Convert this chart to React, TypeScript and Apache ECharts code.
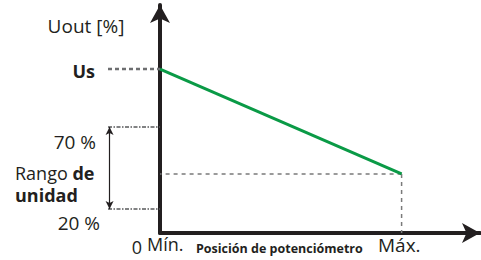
import React, { useEffect, useRef } from "react";
import * as echarts from "echarts";

// Schematic value levels (arbitrary 0-100 units on both axes)
const potPositions = [0, 75.5]; // Mín. -> Máx.
const outputLevels = [71.9, 25.9]; // Us at Mín., value at Máx.
const rangeLevels = [46.5, 10.5]; // 70 % and 20 % marks
const usLevel = 71.9;

const axisLabels = { y: "Uout [%]", us: "Us", top: "70 %", bottom: "20 %", zero: "0", min: "Mín.", max: "Máx.", x: "Posición de potenciómetro" };

const FONT = "'Open Sans', 'DejaVu Sans', sans-serif";
const TEXT = "#231f20";

export default function App() {
  const ref = useRef<HTMLDivElement>(null);
  useEffect(() => {
    if (!ref.current) return;
    const chart = echarts.init(ref.current, null, { renderer: "svg" });
    const axisLine = {
      show: true,
      symbol: ["none", "arrow"],
      symbolSize: [15, 18],
      lineStyle: { color: TEXT, width: 4 },
    };
    const hidden = { show: false };
    chart.setOption({
      animation: false,
      grid: [
        { left: 160, right: 1, top: 5, bottom: 27 },
        { left: 108, width: 52, top: 5, bottom: 27 },
      ],
      xAxis: [
        { type: "value", gridIndex: 0, min: 0, max: 100, axisLine, axisTick: hidden, axisLabel: hidden, splitLine: hidden },
        { type: "value", gridIndex: 1, min: 0, max: 1, show: false },
      ],
      yAxis: [
        { type: "value", gridIndex: 0, min: 0, max: 100, axisLine, axisTick: hidden, axisLabel: hidden, splitLine: hidden },
        { type: "value", gridIndex: 1, min: 0, max: 100, show: false },
      ],
      series: [
        {
          type: "line",
          xAxisIndex: 0,
          yAxisIndex: 0,
          data: [[potPositions[1], outputLevels[1]], [potPositions[0], outputLevels[1]]],
          symbol: "none",
          lineStyle: { color: "#7a7a7a", width: 1.5, type: [4, 4] },
          z: 1,
        },
        {
          type: "line",
          xAxisIndex: 0,
          yAxisIndex: 0,
          data: [[potPositions[1], outputLevels[1]], [potPositions[1], 0]],
          symbol: "none",
          lineStyle: { color: "#7a7a7a", width: 1.5, type: [4, 4] },
          z: 1,
        },
        {
          type: "line",
          xAxisIndex: 0,
          yAxisIndex: 0,
          data: potPositions.map((x, i) => [x, outputLevels[i]]),
          symbol: "none",
          lineStyle: { color: "#0a9a46", width: 3 },
          z: 2,
        },
        {
          type: "line",
          xAxisIndex: 1,
          yAxisIndex: 1,
          data: [[0, usLevel], [1, usLevel]],
          symbol: "none",
          lineStyle: { color: "#6d6e70", width: 2.5, type: [4, 3] },
        },
        {
          type: "line",
          xAxisIndex: 1,
          yAxisIndex: 1,
          data: [[0, rangeLevels[0]], [1, rangeLevels[0]]],
          symbol: "none",
          lineStyle: { color: "#58595b", width: 1.5, type: [4, 1.5, 1.5, 1.5] },
        },
        {
          type: "line",
          xAxisIndex: 1,
          yAxisIndex: 1,
          data: [[0, rangeLevels[1]], [1, rangeLevels[1]]],
          symbol: "none",
          lineStyle: { color: "#58595b", width: 1.5, type: [4, 1.5, 1.5, 1.5] },
          markLine: {
            silent: true,
            symbol: ["arrow", "arrow"],
            symbolSize: [6, 8],
            label: { show: false },
            lineStyle: { color: TEXT, width: 1.2, type: "solid" },
            data: [[{ coord: [0.03, rangeLevels[0]] }, { coord: [0.03, rangeLevels[1]] }]],
          },
        },
      ],
      graphic: [
        { type: "text", x: 86, y: 26, style: { text: axisLabels.y, font: `19px ${FONT}`, fill: TEXT, align: "center", verticalAlign: "middle" } },
        { type: "text", x: 95, y: 71, style: { text: axisLabels.us, font: `bold 18px ${FONT}`, fill: TEXT, align: "right", verticalAlign: "middle" } },
        { type: "text", x: 96, y: 142, style: { text: axisLabels.top, font: `19px ${FONT}`, fill: TEXT, align: "right", verticalAlign: "middle" } },
        {
          type: "text",
          x: 15,
          y: 184,
          style: {
            text: "{r|Rango }{b|de}\n{b|unidad}",
            fill: TEXT,
            align: "left",
            verticalAlign: "middle",
            rich: {
              r: { font: `18px ${FONT}`, fill: TEXT, lineHeight: 22 },
              b: { font: `bold 18px ${FONT}`, fill: TEXT, lineHeight: 22 },
            },
          },
        },
        { type: "text", x: 100, y: 223, style: { text: axisLabels.bottom, font: `19px ${FONT}`, fill: TEXT, align: "right", verticalAlign: "middle" } },
        { type: "text", x: 137, y: 247, style: { text: axisLabels.zero, font: `18px ${FONT}`, fill: TEXT, align: "center", verticalAlign: "middle" } },
        { type: "text", x: 147, y: 244, style: { text: axisLabels.min, font: `18px ${FONT}`, fill: TEXT, align: "left", verticalAlign: "middle" } },
        { type: "text", x: 196, y: 248, style: { text: axisLabels.x, font: `bold 12.5px ${FONT}`, fill: TEXT, align: "left", verticalAlign: "middle" } },
        { type: "text", x: 378, y: 245, style: { text: axisLabels.max, font: `19px ${FONT}`, fill: TEXT, align: "left", verticalAlign: "middle" } },
      ],
    });
    return () => chart.dispose();
  }, []);
  return <div ref={ref} style={{ width: 481, height: 260, position: "absolute", left: 0, top: 0 }} />;
}
